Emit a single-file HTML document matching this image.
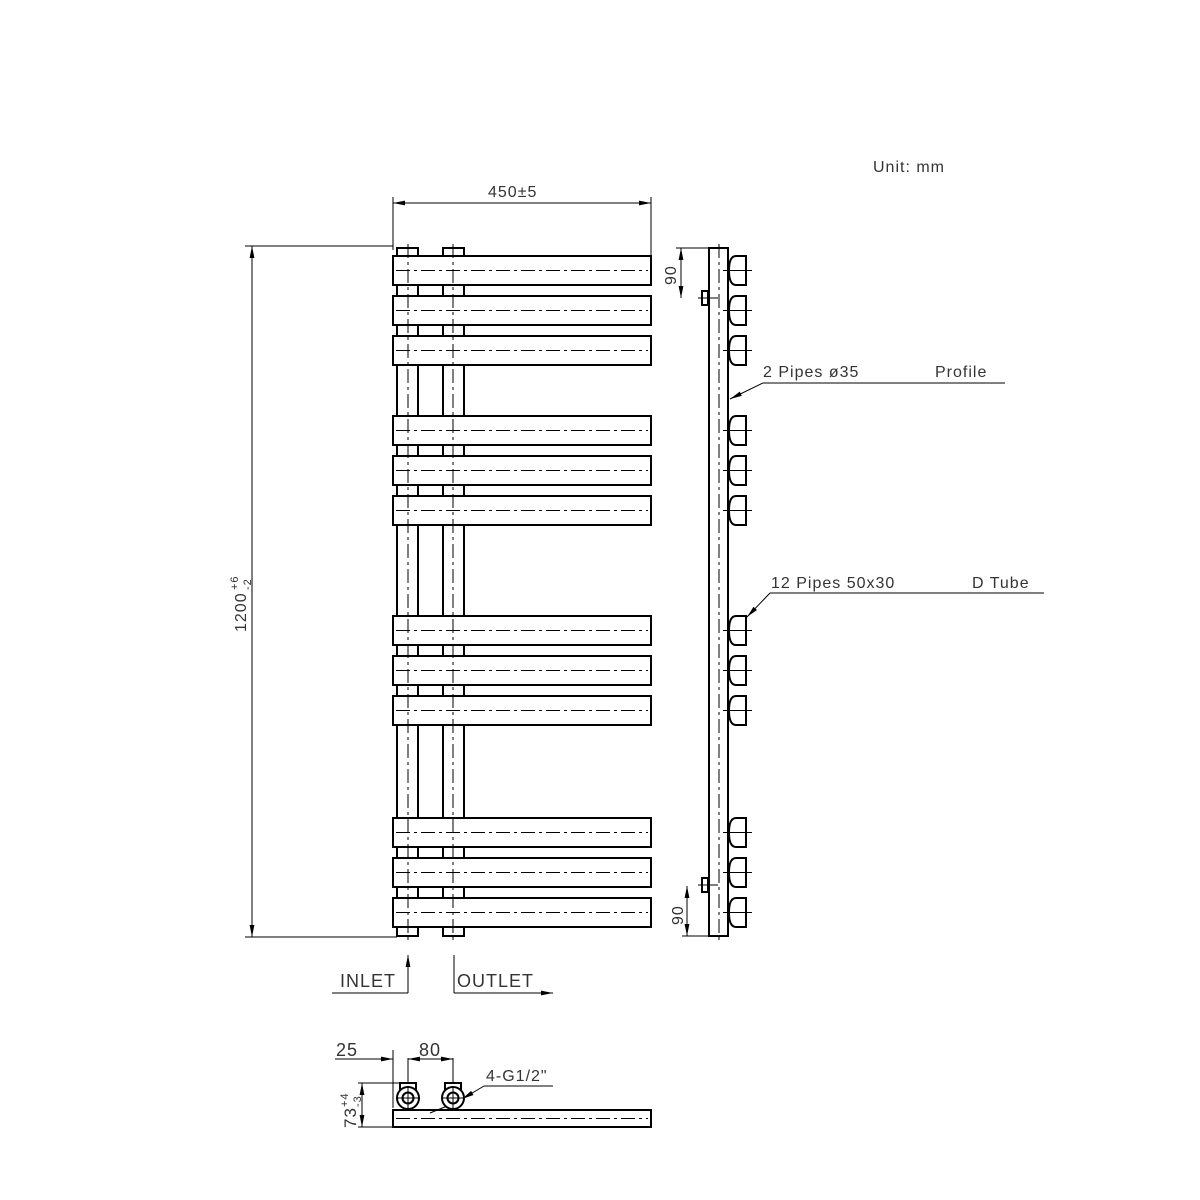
<!DOCTYPE html>
<html><head><meta charset="utf-8"><style>html,body{margin:0;padding:0;background:#fff}svg{display:block}</style></head><body>
<svg width="1200" height="1200" viewBox="0 0 1200 1200" xmlns="http://www.w3.org/2000/svg" font-family="Liberation Sans, sans-serif">
<defs>
<marker id="a" viewBox="0 0 10 4" refX="10" refY="2" markerWidth="12" markerHeight="5" orient="auto-start-reverse" markerUnits="userSpaceOnUse"><path d="M0,0L10,2L0,4z" fill="#000"/></marker>
</defs>
<g fill="none" stroke="#000" stroke-width="2">
<rect x="397" y="248" width="21" height="688"/>
<rect x="443" y="248" width="21" height="688"/>
</g>
<g fill="#fff" stroke="#000" stroke-width="2">
<rect x="393" y="256" width="258" height="29"/>
<rect x="393" y="296" width="258" height="29"/>
<rect x="393" y="336" width="258" height="29"/>
<rect x="393" y="416" width="258" height="29"/>
<rect x="393" y="456" width="258" height="29"/>
<rect x="393" y="496" width="258" height="29"/>
<rect x="393" y="616" width="258" height="29"/>
<rect x="393" y="656" width="258" height="29"/>
<rect x="393" y="696" width="258" height="29"/>
<rect x="393" y="818" width="258" height="29"/>
<rect x="393" y="858" width="258" height="29"/>
<rect x="393" y="898" width="258" height="29"/>
</g>
<g stroke="#000" stroke-width="1" stroke-dasharray="14,4,3,4" fill="none">
<line x1="408" y1="244" x2="408" y2="940"/>
<line x1="453" y1="244" x2="453" y2="940"/>
<path d="M396 270.5H648M396 310.5H648M396 350.5H648M396 430.5H648M396 470.5H648M396 510.5H648M396 630.5H648M396 670.5H648M396 710.5H648M396 832.5H648M396 872.5H648M396 912.5H648"/>
<line x1="719" y1="244" x2="719" y2="940"/>
<line x1="396" y1="1118.5" x2="648" y2="1118.5"/>
</g>
<g fill="none" stroke="#000" stroke-width="2">
<rect x="709" y="248" width="19" height="688"/>
<rect x="702" y="291" width="6" height="14"/>
<rect x="702" y="878" width="6" height="14"/>
</g>
<g fill="#fff" stroke="#000" stroke-width="2">
<path id="d" d="M746 256H736Q729 256 729 270.5Q729 285 736 285H746Z"/>
<use href="#d" y="40"/><use href="#d" y="80"/><use href="#d" y="160"/><use href="#d" y="200"/><use href="#d" y="240"/><use href="#d" y="360"/><use href="#d" y="400"/><use href="#d" y="440"/><use href="#d" y="562"/><use href="#d" y="602"/><use href="#d" y="642"/>
</g>
<g stroke="#000" stroke-width="1">
<path d="M723 270.5H752M723 310.5H752M723 350.5H752M723 430.5H752M723 470.5H752M723 510.5H752M723 630.5H752M723 670.5H752M723 710.5H752M723 832.5H752M723 872.5H752M723 912.5H752"/>
<path d="M698 298H718M698 885H718"/>
</g>
<g stroke="#000" stroke-width="1" fill="none">
<line x1="393" y1="197" x2="393" y2="250"/>
<line x1="651" y1="197" x2="651" y2="255"/>
<line x1="393" y1="203" x2="651" y2="203" marker-start="url(#a)" marker-end="url(#a)"/>
<line x1="245" y1="246" x2="393" y2="246"/>
<line x1="245" y1="937" x2="397" y2="937"/>
<line x1="252" y1="246" x2="252" y2="937" marker-start="url(#a)" marker-end="url(#a)"/>
<line x1="676" y1="248" x2="708" y2="248"/>
<line x1="681" y1="248" x2="681" y2="298" marker-start="url(#a)" marker-end="url(#a)"/>
<line x1="682" y1="936" x2="708" y2="936"/>
<line x1="687" y1="886" x2="687" y2="936" marker-start="url(#a)" marker-end="url(#a)"/>
<polyline points="1005,383 763,383"/>
<line x1="763" y1="383" x2="730" y2="399" marker-end="url(#a)"/>
<polyline points="1044,593 770,593"/>
<line x1="770" y1="593" x2="747" y2="617" marker-end="url(#a)"/>
<polyline points="332,993 408,993"/>
<line x1="408" y1="993" x2="408" y2="955" marker-end="url(#a)"/>
<line x1="454" y1="955" x2="454" y2="993"/>
<line x1="454" y1="993" x2="553" y2="993" marker-end="url(#a)"/>
<line x1="393" y1="1050" x2="393" y2="1108"/>
<line x1="408" y1="1058" x2="408" y2="1100"/>
<line x1="453" y1="1058" x2="453" y2="1100"/>
<line x1="335" y1="1059" x2="393" y2="1059" marker-end="url(#a)"/>
<line x1="408" y1="1059" x2="453" y2="1059" marker-start="url(#a)" marker-end="url(#a)"/>
<line x1="358" y1="1083" x2="405" y2="1083"/>
<line x1="358" y1="1127" x2="393" y2="1127"/>
<line x1="362" y1="1083" x2="362" y2="1127" marker-start="url(#a)" marker-end="url(#a)"/>
<line x1="553" y1="1086" x2="484" y2="1086"/>
<line x1="484" y1="1086" x2="462" y2="1099" marker-end="url(#a)"/>
<line x1="462" y1="1100" x2="430" y2="1113"/>
</g>
<g fill="#fff" stroke="#000" stroke-width="2">
<rect x="400" y="1083" width="16" height="12"/>
<rect x="445" y="1083" width="16" height="12"/>
<circle cx="408" cy="1098" r="11"/><circle cx="408" cy="1098" r="5.5"/>
<circle cx="453" cy="1098" r="11"/><circle cx="453" cy="1098" r="5.5"/>
<rect x="393" y="1110" width="258" height="17" fill="none"/>
</g>
<g stroke="#000" stroke-width="1"><path d="M408 1088V1108M398 1098H418M453 1088V1108M443 1098H463"/></g>
<g fill="#333" font-size="16" letter-spacing="1">
<text x="873" y="172">Unit: mm</text>
<text x="488" y="197">450±5</text>
<text x="763" y="377">2 Pipes ø35</text>
<text x="935" y="377">Profile</text>
<text x="771" y="588">12 Pipes 50x30</text>
<text x="972" y="588">D Tube</text>
<text x="340" y="987" font-size="18">INLET</text>
<text x="457" y="987" font-size="18">OUTLET</text>
<text x="336" y="1056" font-size="18">25</text>
<text x="419" y="1056" font-size="18">80</text>
<text x="486" y="1081">4-G1/2"</text>
<text transform="translate(676,285) rotate(-90)">90</text>
<text transform="translate(683,925) rotate(-90)">90</text>
<g transform="translate(246,632) rotate(-90)">
<text x="0" y="0">1200</text>
<text x="42" y="-8" font-size="11">+6</text>
<text x="42" y="5" font-size="11">-2</text>
</g>
<g transform="translate(356,1128) rotate(-90)">
<text x="0" y="0" font-size="17">73</text>
<text x="21" y="-8" font-size="11">+4</text>
<text x="21" y="5" font-size="11">-3</text>
</g>
</g>
</svg>
</body></html>
